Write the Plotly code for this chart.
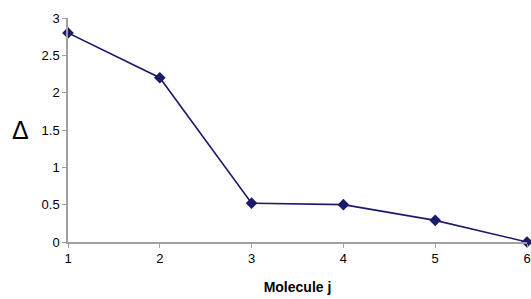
import plotly.graph_objects as go

molecule = [1, 2, 3, 4, 5, 6]
delta = [2.80, 2.20, 0.52, 0.50, 0.29, 0.0]
y_ticks = [0, 0.5, 1, 1.5, 2, 2.5, 3]
y_tick_labels = ["0", "0.5", "1", "1.5", "2", "2.5", "3"]

fig = go.Figure()
fig.add_trace(go.Scatter(
    x=molecule, y=delta, mode="lines+markers",
    line=dict(color="#1c1a6b", width=1.6),
    marker=dict(symbol="diamond", size=9, color="#1c1a6b"),
    cliponaxis=False, showlegend=False,
))

ff = "Liberation Sans, Arial, sans-serif"
font = dict(family=ff, size=13, color="#000000")
W, H = 531, 299
L, R, T, B = 68, 4, 18, 57
fig.update_layout(
    width=W, height=H,
    margin=dict(l=L, r=R, t=T, b=B, autoexpand=False),
    paper_bgcolor="white", plot_bgcolor="white",
    font=font,
    xaxis=dict(
        range=[1, 6], tickvals=molecule, ticktext=[str(m) for m in molecule],
        showline=True, linecolor="#a0a0a0", linewidth=1.5,
        ticks="outside", ticklen=4, tickcolor="#a0a0a0",
        showgrid=False, zeroline=False, automargin=False,
        title=dict(text="<b>Molecule j</b>", font=dict(size=14, family=ff), standoff=17),
    ),
    yaxis=dict(
        range=[0, 3], tickvals=y_ticks, ticktext=y_tick_labels,
        showline=True, linecolor="#a0a0a0", linewidth=1.5,
        ticks="outside", ticklen=4, tickcolor="#a0a0a0",
        showgrid=False, zeroline=False, automargin=False,
    ),
    annotations=[dict(
        text="Δ", x=(20 - L) / (W - L - R), y=1.5, xref="paper", yref="y",
        showarrow=False, font=dict(size=25, family=ff),
        xanchor="center", yanchor="middle",
    )],
)
fig.write_html(
    "out.html",
    config={"displayModeBar": False},
    post_script="document.body.style.margin='0';document.body.style.overflow='hidden';",
)
